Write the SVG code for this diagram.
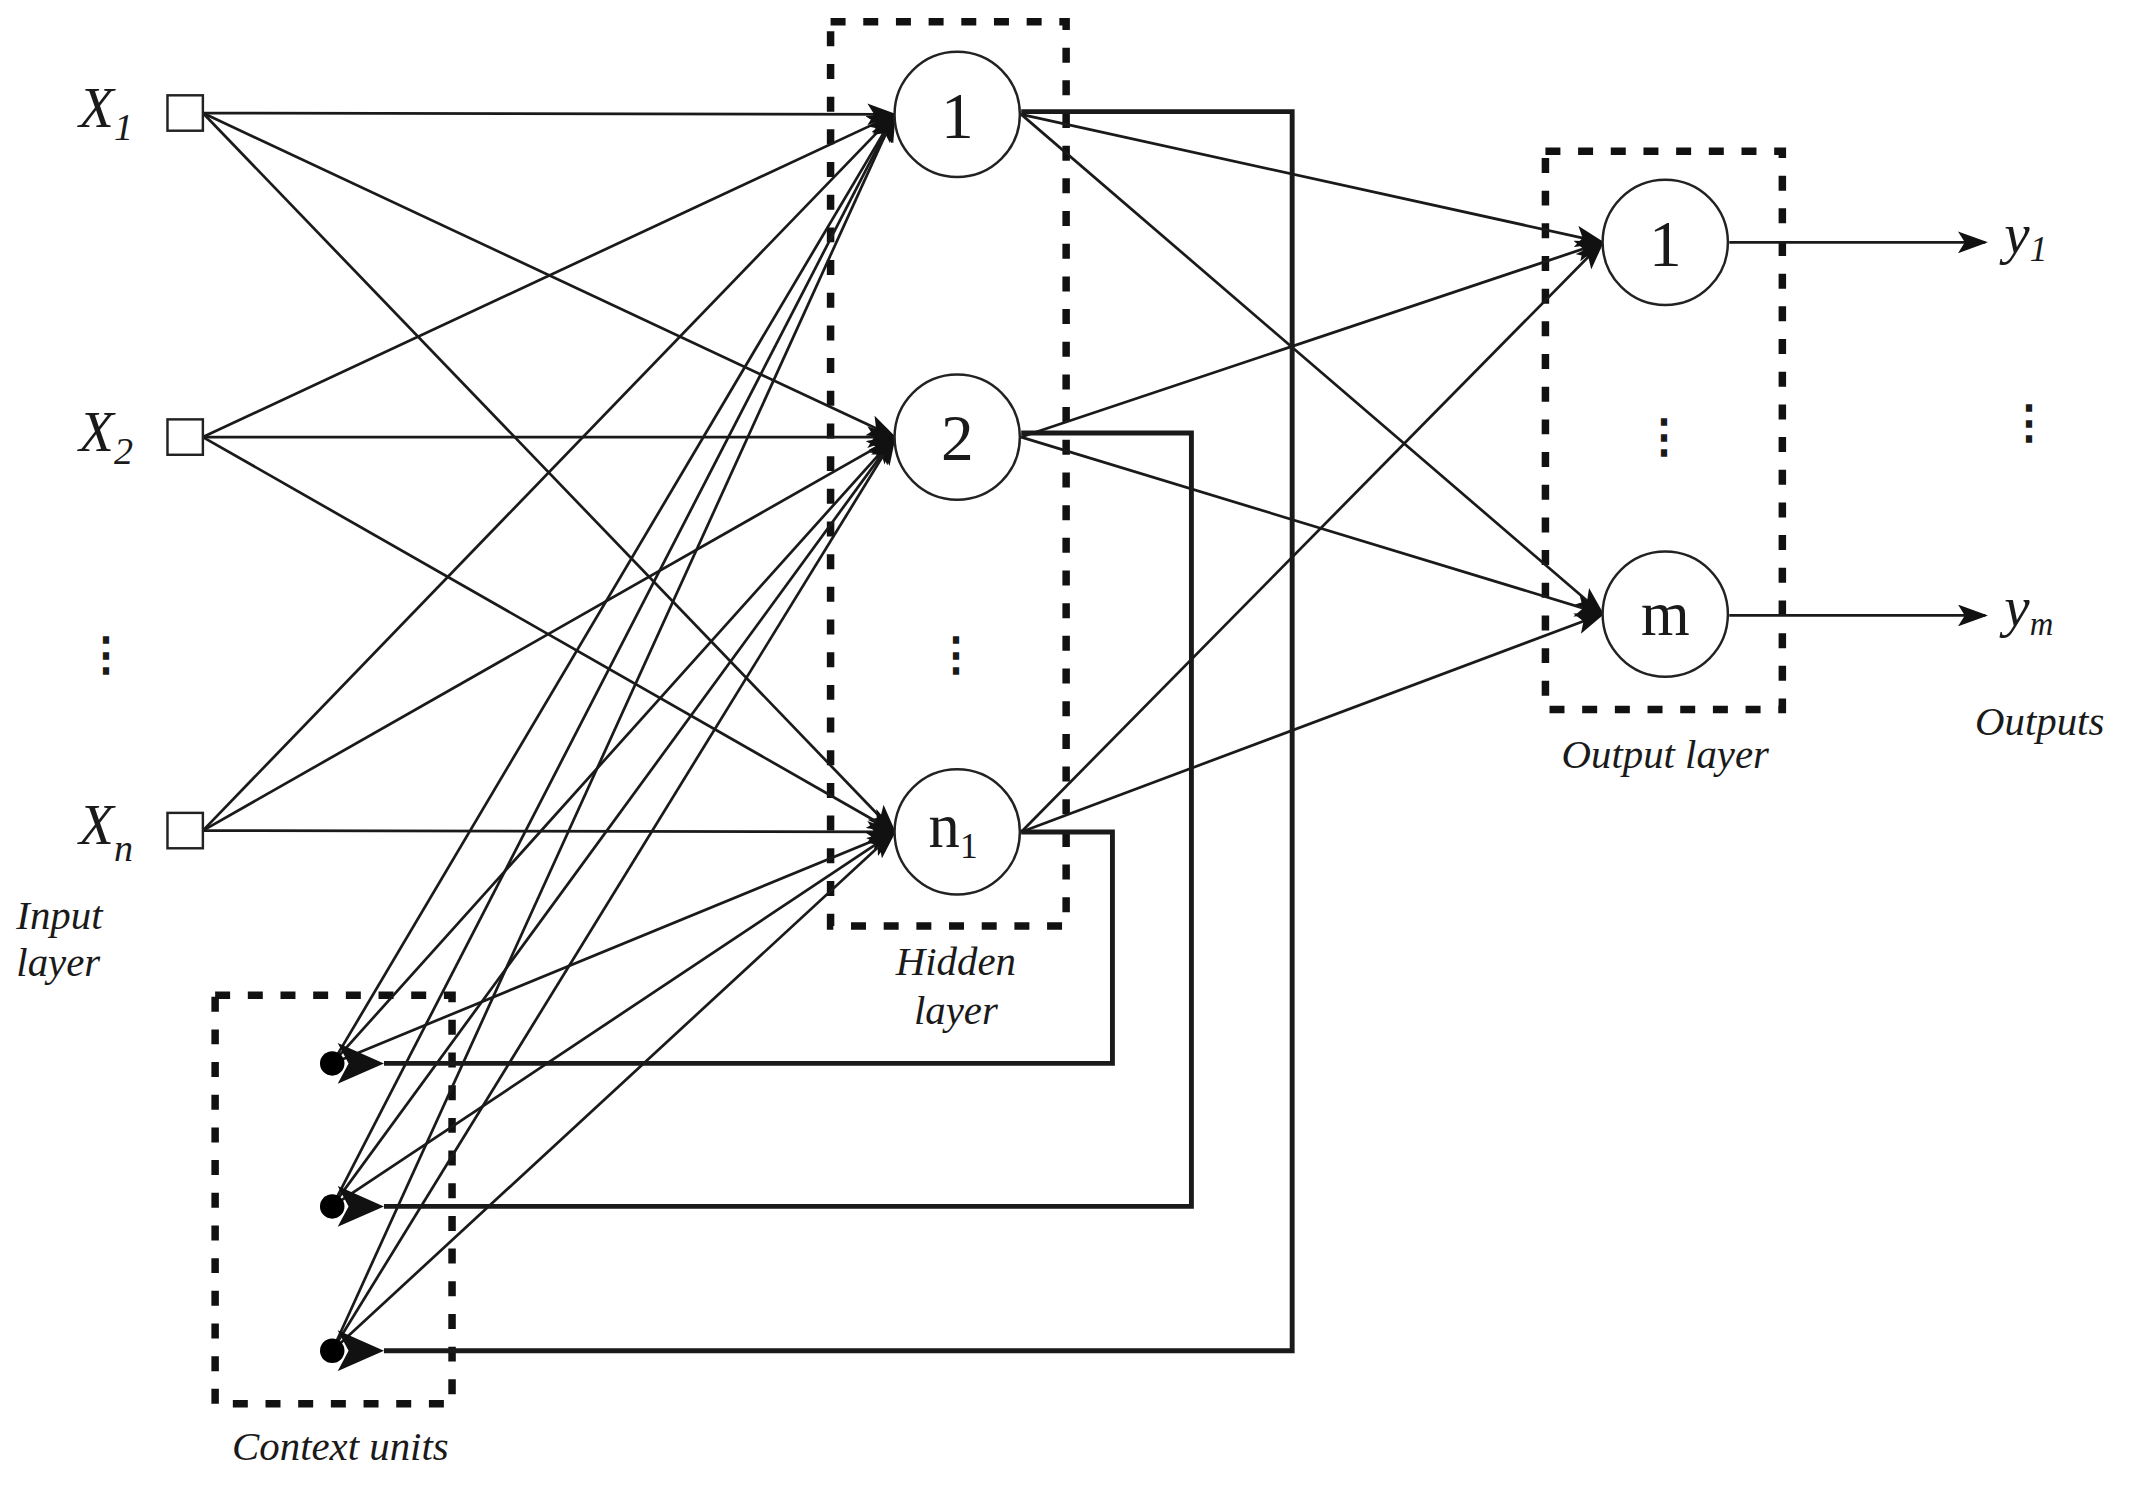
<svg xmlns="http://www.w3.org/2000/svg" width="2135" height="1489" viewBox="0 0 2135 1489">
<defs>
<marker id="a" markerUnits="userSpaceOnUse" markerWidth="24" markerHeight="16" refX="20" refY="8" orient="auto"><path d="M0,0 L22,8 L0,16 L5,8 Z" fill="#111"/></marker>
<marker id="b" markerUnits="userSpaceOnUse" markerWidth="36" markerHeight="30" refX="0" refY="15" orient="auto"><path d="M0,15 L34,0 L26,15 L34,30 Z" fill="#111"/></marker>
</defs>
<style>
.l{stroke:#1a1a1a;stroke-width:2;fill:none}
.f{stroke:#1a1a1a;stroke-width:3.6;fill:none}
.d{stroke:#111;stroke-width:5.5;fill:none;stroke-dasharray:11 13}
.n{fill:#fff;stroke:#222;stroke-width:1.8}
.t{font-family:"Liberation Serif","DejaVu Serif",serif;fill:#1a1a1a}
.i{font-family:"Liberation Serif","DejaVu Serif",serif;font-style:italic;fill:#1a1a1a}
</style>
<rect width="2135" height="1489" fill="#fff"/>
<g transform="scale(1.36161)">
<g id="boxes">
<rect class="d" x="610" y="16" width="173" height="664"/>
<rect class="d" x="1135" y="111" width="174" height="410"/>
<rect class="d" x="158" y="731" width="174" height="300"/>
</g>
<g id="connectors">
<g class="l" marker-end="url(#a)">
<path d="M149,83 L657,84"/><path d="M149,83 L657,321"/><path d="M149,83 L657,611"/>
<path d="M149,321 L657,84"/><path d="M149,321 L657,321"/><path d="M149,321 L657,611"/>
<path d="M149,610 L657,84"/><path d="M149,610 L657,321"/><path d="M149,610 L657,611"/>
<path d="M244,781 L657,84"/><path d="M244,781 L657,321"/><path d="M244,781 L657,611"/>
<path d="M244,886 L657,84"/><path d="M244,886 L657,321"/><path d="M244,886 L657,611"/>
<path d="M244,992 L657,84"/><path d="M244,992 L657,321"/><path d="M244,992 L657,611"/>
<path d="M750,84 L1177,178"/><path d="M750,84 L1177,451"/>
<path d="M750,321 L1177,178"/><path d="M750,321 L1177,451"/>
<path d="M750,611 L1177,178"/><path d="M750,611 L1177,451"/>
<path d="M1270,178 L1458,178"/><path d="M1270,452 L1458,452"/>
</g>
<g class="f" marker-end="url(#b)">
<path d="M750,82 L949,82 L949,992 L282,992"/>
<path d="M750,318 L875,318 L875,886 L282,886"/>
<path d="M750,611 L817,611 L817,781 L282,781"/>
</g>
</g>
<g id="inputs">
<rect class="n" x="123" y="70" width="26" height="26"/>
<rect class="n" x="123" y="308" width="26" height="26"/>
<rect class="n" x="123" y="597" width="26" height="26"/>
<text class="i" x="58" y="93" font-size="42">X<tspan font-size="28" dy="10">1</tspan></text>
<text class="i" x="58" y="331" font-size="42">X<tspan font-size="28" dy="10">2</tspan></text>
<text class="i" x="58" y="620" font-size="42">X<tspan font-size="28" dy="12">n</tspan></text>
<text class="t" x="78" y="492" font-size="34" font-weight="bold" text-anchor="middle">⋮</text>
<text class="i" x="12" y="682" font-size="30">Input</text>
<text class="i" x="12" y="717" font-size="30">layer</text>
</g>
<g id="hidden">
<circle class="n" cx="703" cy="84" r="46"/>
<circle class="n" cx="703" cy="321" r="46"/>
<circle class="n" cx="703" cy="611" r="46"/>
<text class="t" x="703" y="101" font-size="48" text-anchor="middle">1</text>
<text class="t" x="703" y="338" font-size="48" text-anchor="middle">2</text>
<text class="t" x="700" y="622" font-size="46" text-anchor="middle">n<tspan font-size="26" dy="8">1</tspan></text>
<text class="t" x="702" y="492" font-size="34" font-weight="bold" text-anchor="middle">⋮</text>
<text class="i" x="702" y="716" font-size="30" text-anchor="middle">Hidden</text>
<text class="i" x="702" y="752" font-size="30" text-anchor="middle">layer</text>
</g>
<g id="context">
<circle cx="244" cy="781" r="9" fill="#000"/>
<circle cx="244" cy="886" r="9" fill="#000"/>
<circle cx="244" cy="992" r="9" fill="#000"/>
<text class="i" x="250" y="1072" font-size="30" text-anchor="middle">Context units</text>
</g>
<g id="outputs">
<circle class="n" cx="1223" cy="178" r="46"/>
<circle class="n" cx="1223" cy="451" r="46"/>
<text class="t" x="1223" y="195" font-size="48" text-anchor="middle">1</text>
<text class="t" x="1223" y="466" font-size="46" text-anchor="middle">m</text>
<text class="t" x="1222" y="332" font-size="34" font-weight="bold" text-anchor="middle">⋮</text>
<text class="i" x="1223" y="564" font-size="30" text-anchor="middle">Output layer</text>
<text class="i" x="1472" y="186" font-size="42">y<tspan font-size="26" dy="6">1</tspan></text>
<text class="i" x="1472" y="460" font-size="42">y<tspan font-size="24" dy="6">m</tspan></text>
<text class="t" x="1490" y="322" font-size="34" font-weight="bold" text-anchor="middle">⋮</text>
<text class="i" x="1498" y="540" font-size="30" text-anchor="middle">Outputs</text>
</g>
</g>
</svg>
